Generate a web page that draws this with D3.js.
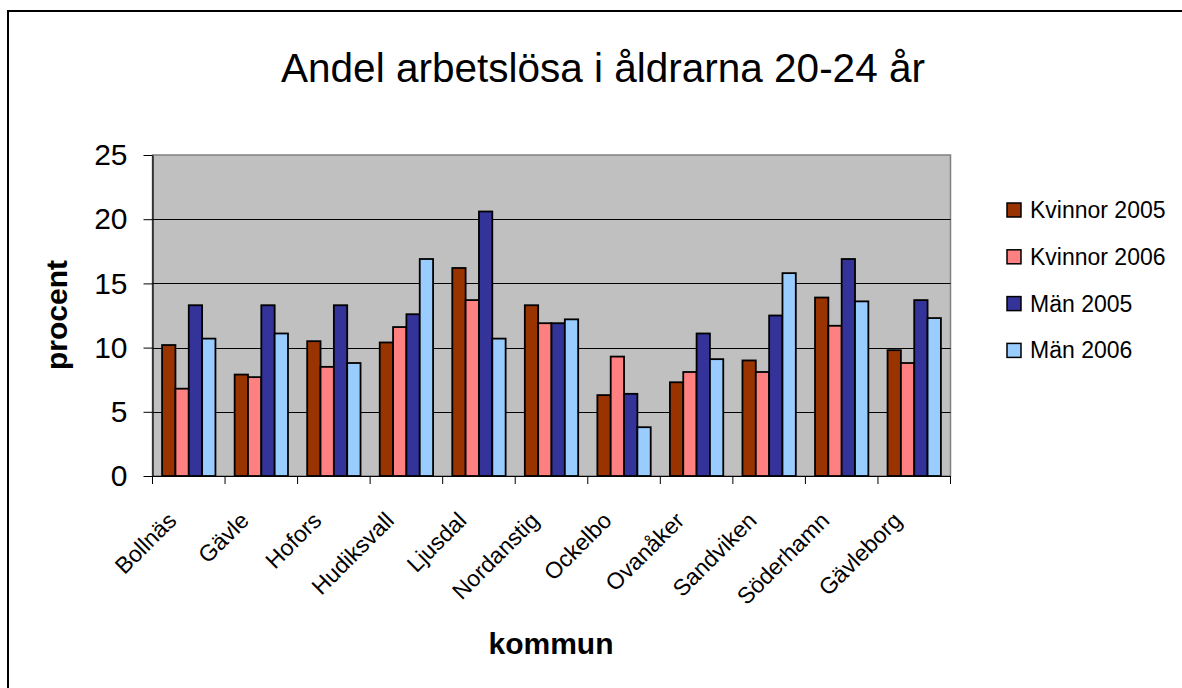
<!DOCTYPE html>
<html>
<head>
<meta charset="utf-8">
<script src="https://cdn.jsdelivr.net/npm/d3@7"></script>
<style>
  html, body { margin: 0; padding: 0; background: #fff; }
  svg { display: block; font-family: Arial, "Liberation Sans", sans-serif; }
</style>
</head>
<body>
<svg id="chart" width="1182" height="688"></svg>
<script>
const categories = ["Bollnäs", "Gävle", "Hofors", "Hudiksvall", "Ljusdal", "Nordanstig", "Ockelbo", "Ovanåker", "Sandviken", "Söderhamn", "Gävleborg"];
const seriesNames = ["Kvinnor 2005", "Kvinnor 2006", "Män 2005", "Män 2006"];
const kvinnor2005 = [10.2, 7.9, 10.5, 10.4, 16.2, 13.3, 6.3, 7.3, 9.0, 13.9, 9.8];
const kvinnor2006 = [6.8, 7.7, 8.5, 11.6, 13.7, 11.9, 9.3, 8.1, 8.1, 11.7, 8.8];
const man2005 = [13.3, 13.3, 13.3, 12.6, 20.6, 11.9, 6.4, 11.1, 12.5, 16.9, 13.7];
const man2006 = [10.7, 11.1, 8.8, 16.9, 10.7, 12.2, 3.8, 9.1, 15.8, 13.6, 12.3];
const yTicks = [0, 5, 10, 15, 20, 25];
const colors = ["#993300", "#FF8080", "#333399", "#99CCFF"];

const seriesValues = [kvinnor2005, kvinnor2006, man2005, man2006];

const svg = d3.select("#chart");

// outer frame
svg.append("rect").attr("x", 8).attr("y", 11).attr("width", 1200).attr("height", 700)
  .attr("fill", "#fff").attr("stroke", "#000").attr("stroke-width", 2);

const plot = { left: 152.5, top: 155, right: 950.5, bottom: 476 };

const x = d3.scaleBand().domain(categories).range([plot.left, plot.right]).paddingInner(0).paddingOuter(0);
const inner = d3.scaleBand().domain(d3.range(4)).range([0, x.bandwidth()]).paddingInner(0).paddingOuter(0.72);
const y = d3.scaleLinear().domain([0, 25]).range([plot.bottom, plot.top]);

// plot background
svg.append("rect").attr("x", plot.left).attr("y", plot.top)
  .attr("width", plot.right - plot.left).attr("height", plot.bottom - plot.top)
  .attr("fill", "#C0C0C0").attr("stroke", "#808080").attr("stroke-width", 1.5);

// gridlines
svg.append("g").selectAll("line").data(yTicks.filter(d => d > 0 && d < 25)).join("line")
  .attr("x1", plot.left).attr("x2", plot.right)
  .attr("y1", d => Math.round(y(d)) + 0.5).attr("y2", d => Math.round(y(d)) + 0.5)
  .attr("stroke", "#000").attr("stroke-width", 1);

// bars
const groups = svg.append("g").selectAll("g").data(categories).join("g")
  .attr("transform", d => `translate(${x(d)},0)`);
groups.selectAll("rect").data((c, i) => seriesValues.map((s, k) => ({ k, v: s[i] }))).join("rect")
  .attr("x", d => inner(d.k))
  .attr("y", d => y(d.v))
  .attr("width", inner.bandwidth())
  .attr("height", d => plot.bottom - y(d.v))
  .attr("fill", d => colors[d.k])
  .attr("stroke", "#000").attr("stroke-width", 1.8);

// y axis
const yAxis = d3.axisLeft(y).tickValues(yTicks).tickSize(9).tickPadding(10).tickSizeOuter(0);
const gy = svg.append("g").attr("transform", `translate(${plot.left},0)`).call(yAxis);
gy.select(".domain").attr("stroke", "#000").attr("stroke-width", 1.2);
gy.selectAll(".tick line").attr("stroke", "#000");
gy.selectAll(".tick text").attr("font-size", 30).attr("fill", "#000")
  .attr("font-family", "Arial, 'Liberation Sans', sans-serif").attr("dx", -6);

// x axis
const xAxis = d3.axisBottom(x).tickSize(0).tickFormat("");
const gx = svg.append("g").attr("transform", `translate(0,${plot.bottom})`).call(xAxis);
gx.select(".domain").attr("stroke", "#000").attr("stroke-width", 1.2);
// category boundary ticks
const boundaries = categories.map(c => x(c)).concat([x(categories[categories.length - 1]) + x.bandwidth()]);
svg.append("g").selectAll("line").data(boundaries).join("line")
  .attr("x1", d => d).attr("x2", d => d)
  .attr("y1", plot.bottom).attr("y2", plot.bottom + 8)
  .attr("stroke", "#000").attr("stroke-width", 1);

// x labels rotated
svg.append("g").selectAll("text").data(categories).join("text")
  .attr("transform", d => `translate(${x(d) + x.bandwidth() / 2 - 11},${plot.bottom + 46}) rotate(-45)`)
  .attr("text-anchor", "end")
  .attr("font-size", 23)
  .attr("fill", "#000")
  .text(d => d);

// title
svg.append("text").attr("x", 603).attr("y", 82).attr("text-anchor", "middle")
  .attr("font-size", 40.5).attr("fill", "#000")
  .text("Andel arbetslösa i åldrarna 20-24 år");

// axis titles
svg.append("text").attr("transform", `translate(67,315) rotate(-90)`).attr("text-anchor", "middle")
  .attr("font-size", 30).attr("font-weight", "bold").attr("fill", "#000").text("procent");
svg.append("text").attr("x", 551).attr("y", 654).attr("text-anchor", "middle")
  .attr("font-size", 30).attr("font-weight", "bold").attr("fill", "#000").text("kommun");

// legend
const legend = svg.append("g").selectAll("g").data(seriesNames).join("g")
  .attr("transform", (d, i) => `translate(1007,${210 + i * 46.8})`);
legend.append("rect").attr("x", 0).attr("y", -7).attr("width", 14).attr("height", 14)
  .attr("fill", (d, i) => colors[i]).attr("stroke", "#000").attr("stroke-width", 1.5);
legend.append("text").attr("x", 23).attr("y", 8).attr("font-size", 23).attr("fill", "#000").text(d => d);
</script>
</body>
</html>
